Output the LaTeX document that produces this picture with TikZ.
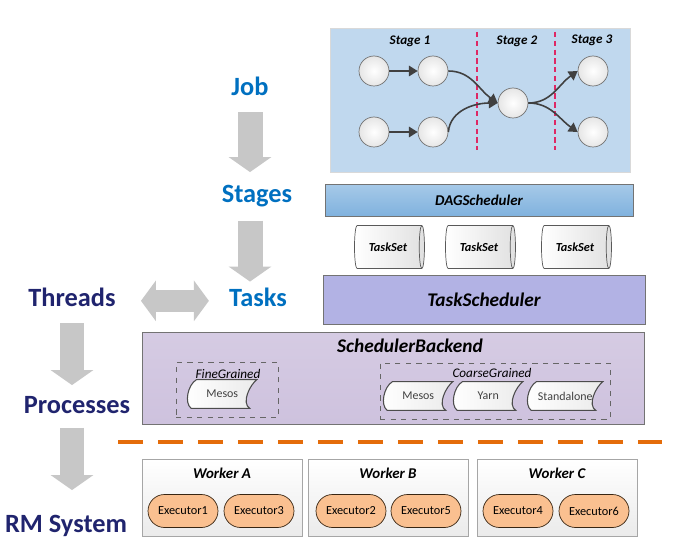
\documentclass[tikz,border=0pt]{standalone}
\usepackage{fontspec}
\setmainfont{Carlito}
\usepackage{xcolor}
\usetikzlibrary{
  arrows.meta,
  shapes.geometric,
  shapes.misc
}
\definecolor{jobblue}{RGB}{0,112,192}
\definecolor{navyblue}{RGB}{32,36,110}
\definecolor{panelblue}{RGB}{192,216,238}
\definecolor{dagblue}{RGB}{128,178,222}
\definecolor{tslilac}{RGB}{178,178,228}
\definecolor{backlilac}{RGB}{206,194,222}
\definecolor{execorange}{RGB}{250,192,144}
\definecolor{stagered}{RGB}{222,40,100}
\definecolor{cutorange}{RGB}{228,108,10}

\tikzset{
  level/.style={inner sep=0, anchor=base, text height=10pt, text depth=3pt,
    font=\fontsize{15}{17}\selectfont\bfseries},
  blockarrow/.style={draw=black!22, line width=0.5cm,
    -{Triangle[width=0.84cm,length=0.3cm]}},
  stagenode/.style={circle, minimum size=0.6cm, inner sep=0, draw=black!55,
    inner color=white, outer color=black!10},
  dagedge/.style={draw=black!75, line width=0.9pt,
    -{Triangle[length=5pt,width=6pt]}},
  layer/.style={draw=black!55, inner sep=0},
  tapebox/.style={minimum width=1.3cm, minimum height=0.56cm, inner sep=0,
    font=\fontsize{6.8}{7}\selectfont},
  executor/.style={rounded rectangle, draw=black!70!brown, fill=execorange,
    minimum width=1.4cm, minimum height=0.66cm, inner sep=0,
    font=\fontsize{7}{7}\selectfont},
  worker/.style={draw=black!35, top color=white, bottom color=black!8,
    minimum width=3.2cm, minimum height=1.54cm, inner sep=0}
}

\begin{document}
\begin{tikzpicture}[x=0.02cm, y=-0.02cm]
  \useasboundingbox (0,0) rectangle (673,547);

  % left column
  \node (job)       [level, text=jobblue]  at (250,96)  { Job };
  \node (stages)    [level, text=jobblue]  at (257,203) { Stages };
  \node (tasks)     [level, text=jobblue]  at (258,307) { Tasks };
  \node (threads)   [level, text=navyblue] at (72,307)  { Threads };
  \node (processes) [level, text=navyblue] at (77,413)  { Processes };
  \node (rm)        [level, text=navyblue] at (66,532)  { RM System };

  \draw[blockarrow, shorten <=0.21cm, shorten >=0.26cm] (job.south) -- (job.south |- stages.north);
  \draw[blockarrow, shorten <=0.24cm, shorten >=0.15cm] (stages.south -| job.south) -- (tasks.north -| job.south);
  \draw[blockarrow, shorten <=0.21cm, shorten >=0.2cm] (threads.south) -- (threads.south |- processes.north);
  \draw[blockarrow, shorten <=0.18cm, shorten >=0.48cm] (processes.south -| threads.south) -- (rm.north -| threads.south);
  \draw[draw=black!22, line width=0.44cm, {Triangle[width=0.8cm,length=0.3cm]}-{Triangle[width=0.8cm,length=0.3cm]},
        shorten <=0.5cm, shorten >=0.4cm] (threads.east) -- (tasks.west);

  % job dag
  \node (panel) [draw=black!15, fill=panelblue, minimum width=6cm, minimum height=2.88cm, inner sep=0] at (480,100) {};
  \draw[stagered, line width=1.1pt, dash pattern=on 3pt off 2pt] (477,32) -- (477,150);
  \draw[stagered, line width=1.1pt, dash pattern=on 3pt off 2pt] (555,32) -- (555,150);
  \node (s1) [font=\fontsize{7.5}{9}\selectfont\bfseries\itshape] at (410,41) { Stage 1 };
  \node (s2) [font=\fontsize{7.5}{9}\selectfont\bfseries\itshape] at (517,41) { Stage 2 };
  \node (s3) [font=\fontsize{7.5}{9}\selectfont\bfseries\itshape] at (592,40) { Stage 3 };
  \node (c11) [stagenode] at (374,71)  {};
  \node (c12) [stagenode] at (433,71)  {};
  \node (c21) [stagenode] at (374,132) {};
  \node (c22) [stagenode] at (433,132) {};
  \node (n2)  [stagenode] at (513,103) {};
  \node (c31) [stagenode] at (593,71)  {};
  \node (c32) [stagenode] at (593,132) {};
  \draw[dagedge] (c11) -- (c12);
  \draw[dagedge] (c21) -- (c22);
  \draw[dagedge] (c12.east) to[out=0, in=145] (n2.west);
  \draw[dagedge] (c22.east) to[out=85, in=180] (n2.west);
  \draw[dagedge] (n2.east) to[out=0, in=215] (c31.west);
  \draw[dagedge] (n2.east) to[out=0, in=145] (c32.west);

  % schedulers
  \node (dag) [layer, top color=dagblue!70, bottom color=dagblue, minimum width=6.16cm, minimum height=0.64cm,
               font=\fontsize{8.5}{10}\selectfont\bfseries\itshape] at (479,200) { DAGScheduler };
  \foreach \name/\x in {ts1/388, ts2/479, ts3/575}
    \node (\name) [cylinder, draw=black!65, left color=white, right color=black!12, aspect=0.6,
                   minimum height=1.4cm, minimum width=0.86cm, inner sep=0,
                   font=\fontsize{7}{8}\selectfont\bfseries\itshape] at (\x,247) { TaskSet };
  \node (tsched) [layer, fill=tslilac, minimum width=6.44cm, minimum height=0.98cm,
                  font=\fontsize{11}{13}\selectfont\bfseries\itshape] at (484,300) { TaskScheduler };

  % backend
  \node (backend) [layer, top color=backlilac!85, bottom color=backlilac, minimum width=10.04cm, minimum height=1.84cm] at (393,378) {};
  \node (btitle) [font=\fontsize{11}{13}\selectfont\bfseries\itshape] at (410,346) { SchedulerBackend };
  \node (fine) [draw=black!60, dashed, minimum width=2.04cm, minimum height=1.1cm, inner sep=0] at (227,390) {};
  \node (coarse) [draw=black!60, dashed, minimum width=4.6cm, minimum height=1.12cm, inner sep=0] at (495,391) {};
  \node (finelbl) [font=\fontsize{7.5}{9}\selectfont\itshape] at (228,374) { FineGrained };
  \node (coarselbl) [font=\fontsize{7.5}{9}\selectfont\itshape] at (492,373) { CoarseGrained };
  \node (fmesos) [tapebox] at (224,394) {};
  \node (cmesos) [tapebox] at (420,396) {};
  \node (yarn) [tapebox] at (490,396) {};
  \node (standalone) [tapebox, minimum width=1.42cm] at (567,396) {};
  \foreach \t/\s in {fmesos/Mesos, cmesos/Mesos, yarn/Yarn, standalone/Standalone} {
    \filldraw[draw=black!70, left color=white, right color=black!8, line width=0.6pt]
      ([xshift=3pt]\t.north west) .. controls +(-5pt,-3pt) and +(-4pt,3pt) .. (\t.south west)
      -- ([xshift=-4pt]\t.south east) .. controls +(-5pt,3pt) and +(-4pt,-3pt) .. (\t.north east) -- cycle;
    \node (\t-text) [tapebox, text=black!75] at ([xshift=-1pt]\t) { \s };
  }

  \draw[cutorange, line width=0.07cm, dash pattern=on 0.5cm off 0.3cm] (118,442) -- (662,442);

  % workers
  \node (wa) [worker] at (222,498) {};
  \node (wb) [worker] at (388,498) {};
  \node (wc) [worker] at (557,498) {};
  \node (wal) [font=\fontsize{8.5}{10}\selectfont\bfseries\itshape] at (222,473) { Worker A };
  \node (wbl) [font=\fontsize{8.5}{10}\selectfont\bfseries\itshape] at (388,473) { Worker B };
  \node (wcl) [font=\fontsize{8.5}{10}\selectfont\bfseries\itshape] at (557,473) { Worker C };
  \node (e1) [executor] at (183,511) { Executor1 };
  \node (e3) [executor] at (259,511) { Executor3 };
  \node (e2) [executor] at (351,511) { Executor2 };
  \node (e5) [executor] at (426,511) { Executor5 };
  \node (e4) [executor] at (518,511) { Executor4 };
  \node (e6) [executor] at (594,511) { Executor6 };
\end{tikzpicture}
\end{document}
